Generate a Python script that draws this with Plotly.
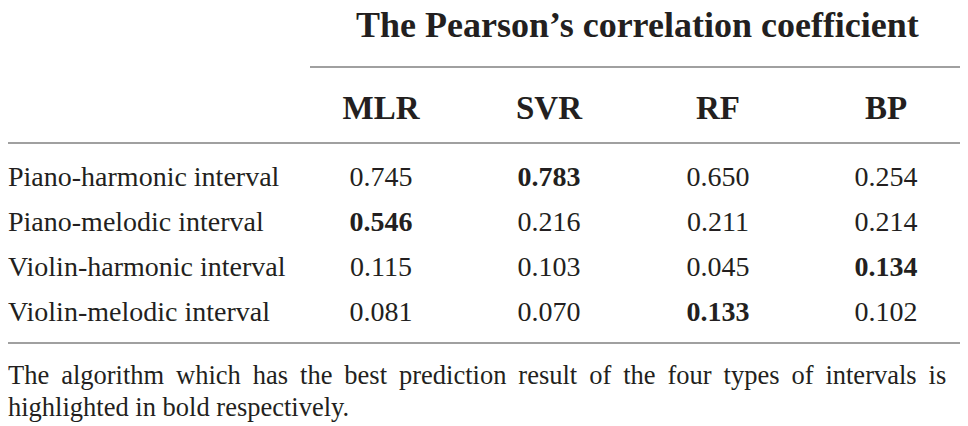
import plotly.graph_objects as go

# table data
methods = ["MLR", "SVR", "RF", "BP"]
intervals = [
    "Piano-harmonic interval",
    "Piano-melodic interval",
    "Violin-harmonic interval",
    "Violin-melodic interval",
]
mlr = [0.745, 0.546, 0.115, 0.081]
svr = [0.783, 0.216, 0.103, 0.070]
rf = [0.650, 0.211, 0.045, 0.133]
bp = [0.254, 0.214, 0.134, 0.102]
title_text = "The Pearson\u2019s correlation coefficient"
note_lines = [
    "The algorithm which has the best prediction result of the four types of intervals is",
    "highlighted in bold respectively.",
]

# layout (pixel grid of the 968x426 page; the page body has an 8px margin)
W, H, PAD = 968, 426, 8
col_x = [381, 549, 718, 886]
left_x = 8
head_y = 111
row_y = [179, 224, 269, 314]
note_y = [377, 409]
serif = "Liberation Serif"
ink = "#231f20"
rule = "#a0a0a0"

columns = [mlr, svr, rf, bp]


def spread(line, gap):
    # widen word gaps so the first footnote line looks justified
    return gap.join(line.split(" "))


fig = go.Figure()

# header
fig.add_trace(go.Scatter(
    x=col_x, y=[head_y] * len(methods), mode="text",
    text=["<b>%s</b>" % m for m in methods],
    textfont=dict(family=serif, size=33, color=ink),
    cliponaxis=False, hoverinfo="skip", showlegend=False))

# row labels
fig.add_trace(go.Scatter(
    x=[left_x] * len(intervals), y=row_y, mode="text",
    text=intervals, textposition="middle right",
    textfont=dict(family=serif, size=28, color=ink),
    cliponaxis=False, hoverinfo="skip", showlegend=False))

# values, best of each row in bold
for r in range(len(intervals)):
    row = [c[r] for c in columns]
    best = max(row)
    txt = [("<b>%.3f</b>" % v) if v == best else ("%.3f" % v) for v in row]
    fig.add_trace(go.Scatter(
        x=col_x, y=[row_y[r]] * len(row), mode="text",
        text=txt, textfont=dict(family=serif, size=28, color=ink),
        cliponaxis=False, hoverinfo="skip", showlegend=False))

# footnote
fig.add_trace(go.Scatter(
    x=[left_x, left_x], y=note_y, mode="text",
    text=[spread(note_lines[0], "\u00a0\u2009"), note_lines[1]],
    textposition="middle right",
    textfont=dict(family=serif, size=26.5, color=ink),
    cliponaxis=False, hoverinfo="skip", showlegend=False))

fig.add_annotation(x=637, y=25, xref="x", yref="y", text="<b>%s</b>" % title_text,
                   showarrow=False, font=dict(family=serif, size=36, color=ink))

for x0, y in [(310, 67), (PAD, 143), (PAD, 343)]:
    fig.add_shape(type="line", x0=x0, x1=960, y0=y, y1=y, xref="x", yref="y",
                  line=dict(color=rule, width=2))

fig.update_xaxes(range=[PAD, W], visible=False, fixedrange=True)
fig.update_yaxes(range=[H, PAD], visible=False, fixedrange=True)
fig.update_layout(width=W - PAD, height=H - PAD, margin=dict(l=0, r=0, t=0, b=0),
                  paper_bgcolor="white", plot_bgcolor="white")

fig.write_html("out.html")
